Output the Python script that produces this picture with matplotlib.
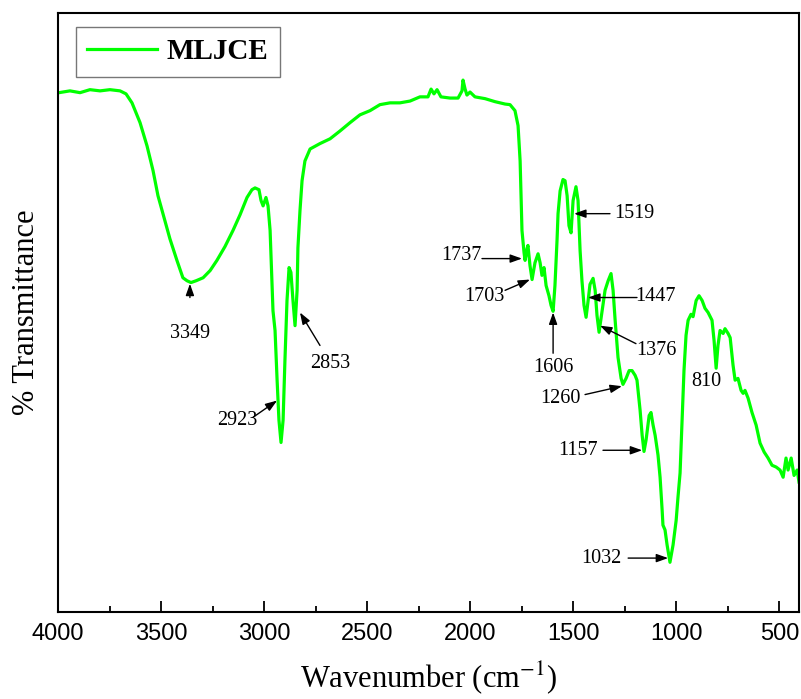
import numpy as np
import matplotlib
matplotlib.use("Agg")
import matplotlib.pyplot as plt

# FTIR spectrum of MLJCE
wavenumber = [3995, 3942, 3893, 3845, 3796, 3748, 3699, 3670, 3641, 3602, 3568, 3539,
              3515, 3491, 3457, 3423, 3394, 3374, 3355, 3330, 3296, 3262, 3229, 3190,
              3151, 3117, 3083, 3059, 3044, 3025, 3015, 3005, 2991, 2981, 2971, 2957,
              2947, 2937, 2928, 2918, 2908, 2899, 2889, 2879, 2870, 2860, 2850, 2840,
              2836, 2826, 2816, 2802, 2777, 2729, 2680, 2632, 2583, 2535, 2486, 2438,
              2389, 2341, 2292, 2244, 2205, 2190, 2176, 2161, 2142, 2098, 2059, 2040,
              2035, 2025, 2016, 2001, 1977, 1928, 1880, 1831, 1807, 1783, 1768, 1758,
              1749, 1739, 1734, 1724, 1720, 1710, 1700, 1686, 1671, 1661, 1652, 1642,
              1632, 1618, 1608, 1598, 1589, 1579, 1574, 1564, 1550, 1540, 1530, 1521,
              1511, 1501, 1487, 1477, 1467, 1458, 1448, 1438, 1428, 1419, 1404, 1394,
              1385, 1375, 1360, 1346, 1331, 1317, 1307, 1297, 1283, 1268, 1259, 1244,
              1229, 1215, 1200, 1191, 1176, 1166, 1157, 1147, 1132, 1123, 1113, 1103,
              1089, 1079, 1069, 1065, 1055, 1045, 1031, 1016, 1001, 992, 982, 972,
              963, 953, 943, 929, 919, 904, 890, 875, 861, 846, 827, 817,
              807, 798, 788, 773, 764, 749, 739, 725, 715, 701, 686, 676,
              667, 652, 633, 613, 594, 574, 555, 536, 516, 497, 482, 468,
              458, 443, 429, 414, 405]
transmittance = [86.7, 87.0, 86.7, 87.2, 87.0, 87.2, 87.0, 86.5, 85.0, 81.7, 77.8, 73.7,
                 69.5, 66.5, 62.3, 58.7, 55.8, 55.3, 55.0, 55.3, 55.8, 57.0, 58.7, 61.0,
                 63.7, 66.3, 69.2, 70.5, 70.8, 70.5, 68.7, 67.8, 69.2, 67.8, 63.7, 50.3,
                 47.0, 38.7, 32.0, 28.3, 32.0, 42.0, 52.0, 57.5, 56.7, 52.0, 47.8, 53.7,
                 60.8, 67.0, 72.0, 75.3, 77.3, 78.2, 79.0, 80.3, 81.7, 83.0, 83.7, 84.7,
                 85.0, 85.0, 85.3, 86.0, 86.0, 87.3, 86.5, 87.2, 86.0, 85.8, 85.8, 87.0,
                 88.8, 87.3, 86.3, 86.8, 86.0, 85.7, 85.2, 84.8, 84.7, 83.7, 81.2, 75.3,
                 63.7, 60.0, 58.7, 60.7, 61.2, 57.8, 55.5, 58.3, 59.8, 58.3, 56.2, 57.5,
                 54.5, 52.8, 51.2, 50.2, 54.5, 62.0, 66.5, 70.3, 72.2, 72.0, 69.5, 64.5,
                 63.3, 68.7, 71.0, 68.7, 60.3, 55.3, 51.2, 49.2, 52.0, 54.7, 55.7, 53.7,
                 49.5, 46.7, 50.3, 53.7, 55.3, 56.5, 53.7, 48.7, 42.5, 39.0, 38.0, 39.0,
                 40.3, 40.3, 39.5, 38.7, 33.7, 29.5, 26.8, 28.7, 32.8, 33.3, 31.2, 29.5,
                 26.2, 22.5, 17.0, 14.5, 13.7, 11.2, 8.3, 11.2, 15.3, 19.2, 23.2, 32.0,
                 40.3, 46.2, 48.7, 49.7, 49.3, 52.0, 52.8, 52.0, 50.7, 50.0, 48.7, 45.3,
                 40.7, 44.5, 47.0, 46.5, 47.3, 46.5, 45.8, 41.2, 38.7, 39.0, 37.0, 36.5,
                 37.0, 35.7, 33.3, 31.2, 28.2, 26.7, 25.7, 24.5, 24.2, 23.7, 22.5, 25.7,
                 23.7, 25.7, 22.8, 23.7, 21.7]

# peak labels: text, text position, arrow tail, arrow tip (data coords)
peak_labels = ["3349", "2923", "2853", "1737", "1703", "1606", "1519",
               "1447", "1376", "1260", "1157", "1032"]
label_xy = [(3360, 46.5), (3131, 32.0), (2680, 41.5), (2045, 59.5), (1933, 52.7),
            (1598, 40.8), (1205, 66.5), (1099, 52.7), (1099, 43.7), (1564, 35.7),
            (1477, 27.0), (1365, 9.0)]
arrow_tail = [(3360, 52.5), (3054, 32.5), (2729, 44.5), (1943, 59.0), (1831, 53.7),
              (1598, 43.2), (1322, 66.5), (1191, 52.5), (1196, 44.8), (1443, 36.3),
              (1356, 27.0), (1234, 9.0)]
arrow_tip = [(3360, 54.8), (2937, 35.3), (2826, 50.0), (1749, 59.0), (1710, 55.5),
             (1598, 50.0), (1496, 66.5), (1428, 52.5), (1370, 47.8), (1264, 37.7),
             (1166, 27.0), (1040, 9.0)]
plain_label = ("810", (856, 38.5))

plt.rcParams["mathtext.fontset"] = "stix"
serif = ["Liberation Serif", "DejaVu Serif"]

fig = plt.figure(figsize=(8.01, 6.99), dpi=100)
ax = fig.add_axes([58 / 801, 1 - 612 / 699, 741 / 801, 599 / 699])
ax.plot(wavenumber, transmittance, color="#00ff00", lw=2.3, label="MLJCE")

for lab, txy, tail, tip in zip(peak_labels, label_xy, arrow_tail, arrow_tip):
    ax.text(*txy, lab, ha="center", va="center", fontsize=14.5, family=serif)
    ax.annotate("", xy=tip, xytext=tail,
                arrowprops=dict(arrowstyle="-|>,head_length=0.7,head_width=0.25",
                                color="black", lw=1.0, shrinkA=0, shrinkB=0))
ax.text(*plain_label[1], plain_label[0], ha="center", va="center", fontsize=14.5,
        family=serif)

ax.set_xlim(4000, 405)
ax.set_ylim(0, 100)
ax.set_xticks(np.arange(4000, 400, -500))
ax.set_xticks(np.arange(3750, 400, -500), minor=True)
ax.set_yticks([])
ax.tick_params(axis="x", which="major", direction="in", length=8, width=1.3, pad=8,
               labelsize=17)
ax.tick_params(axis="x", which="minor", direction="in", length=4.5, width=1.3)
for lbl in ax.get_xticklabels():
    lbl.set_family(["Liberation Sans", "DejaVu Sans"])
for sp in ax.spines.values():
    sp.set_linewidth(1.5)

ax.set_xlabel("Wavenumber (cm$^{-1}$)", fontsize=22, family=serif, labelpad=10)
ax.set_ylabel("% Transmittance", fontsize=22, family=serif, labelpad=12)

leg = ax.legend(loc="upper left", bbox_to_anchor=(0.024, 0.977), borderaxespad=0,
                fancybox=False, handlelength=2.4, borderpad=0.4, handletextpad=0.3,
                prop=dict(family=serif, weight="bold", size=21))
leg.get_frame().set_edgecolor("#555555")
leg.get_frame().set_linewidth(1.0)

fig.savefig("out.png", dpi=100)
print("wrote out.png")
